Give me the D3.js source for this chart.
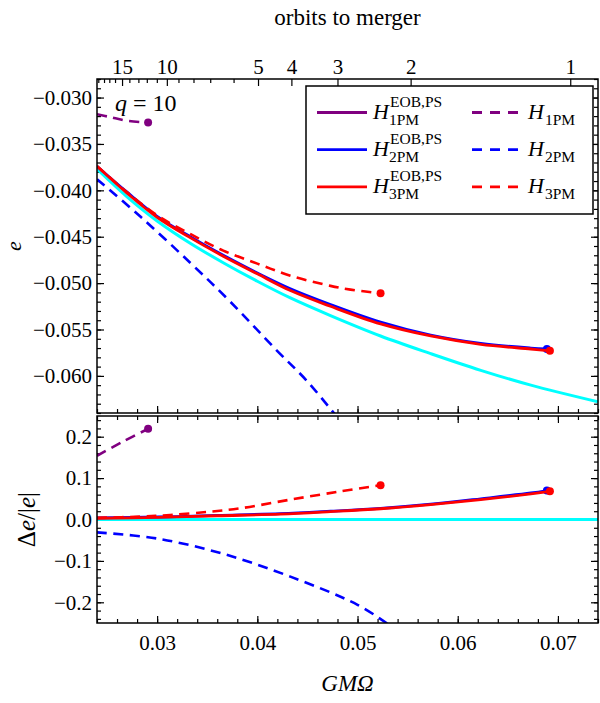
<!DOCTYPE html>
<html><head><meta charset="utf-8">
<script src="https://cdn.jsdelivr.net/npm/d3@7"></script>
<style>
body{margin:0;background:#fff}
svg{display:block}
text{font-family:"Liberation Serif","DejaVu Serif",serif;fill:#000}
</style>
</head><body>
<svg id="chart" width="600" height="703"></svg>
<script>
// ---------------- DATA ----------------
const xDomain = [0.024, 0.074];
const eDomain = [-0.064, -0.028];
const dDomain = [-0.25, 0.25];

const xMajorTicks = [0.03, 0.04, 0.05, 0.06, 0.07];
const eMajorTicks = [-0.060, -0.055, -0.050, -0.045, -0.040, -0.035, -0.030];
const dMajorTicks = [-0.2, -0.1, 0.0, 0.1, 0.2];

const orbitLabels = ["15", "10", "5", "4", "3", "2", "1"];
const orbitOmega = [0.0265, 0.03097, 0.04007, 0.0434, 0.0480, 0.0553, 0.07123];
const orbitMinorOmega = [0.02413, 0.0247, 0.02523, 0.0258, 0.02723, 0.02813, 0.02897, 0.02997, 0.03213, 0.03363, 0.0353, 0.03763];

// top panel: eccentricity e vs GM*Omega
const omegaNR = [0.024, 0.027, 0.030, 0.0333, 0.0366, 0.040, 0.0433, 0.0473, 0.0523, 0.0573, 0.0623, 0.0673, 0.074];
const eNR     = [-0.0377, -0.0407, -0.0433, -0.0457, -0.0478, -0.0498, -0.0516, -0.0535, -0.0557, -0.0576, -0.0594, -0.0610, -0.0628];

const omegaEOB2 = [0.024, 0.027, 0.030, 0.0333, 0.0366, 0.040, 0.0433, 0.0473, 0.0523, 0.0573, 0.0623, 0.0673, 0.0689];
const eEOB2     = [-0.0374, -0.0402, -0.0428, -0.0450, -0.0470, -0.0489, -0.0506, -0.0523, -0.0542, -0.0556, -0.0565, -0.0570, -0.0571];

const omegaEOB3 = [0.024, 0.027, 0.030, 0.0333, 0.0366, 0.040, 0.0433, 0.0473, 0.0523, 0.0573, 0.0623, 0.0673, 0.0692];
const eEOB3     = [-0.0374, -0.0403, -0.0429, -0.0451, -0.0471, -0.0490, -0.0508, -0.0525, -0.0544, -0.0557, -0.0566, -0.0571, -0.0573];

const omegaPM1 = [0.024, 0.0253, 0.0270, 0.0291];
const ePM1     = [-0.0318, -0.0321, -0.0325, -0.0327];

const omegaPM2 = [0.024, 0.0283, 0.0333, 0.0373, 0.0418, 0.0450, 0.0480];
const ePM2     = [-0.0388, -0.0428, -0.0478, -0.0520, -0.0571, -0.0606, -0.0645];

const omegaPM3 = [0.024, 0.027, 0.030, 0.0333, 0.0366, 0.040, 0.0433, 0.0473, 0.0493, 0.0523];
const ePM3     = [-0.0374, -0.0402, -0.0427, -0.0447, -0.0465, -0.0479, -0.0492, -0.0503, -0.0507, -0.0511];

// bottom panel: relative difference
const omegaDNR = [0.024, 0.074];
const dNR      = [0, 0];

const omegaDEOB2 = [0.024, 0.030, 0.036, 0.0423, 0.0473, 0.0523, 0.0573, 0.0623, 0.0673, 0.0689];
const dEOB2      = [0.004, 0.006, 0.010, 0.014, 0.020, 0.027, 0.037, 0.050, 0.064, 0.070];

const omegaDEOB3 = [0.024, 0.030, 0.036, 0.0423, 0.0473, 0.0523, 0.0573, 0.0623, 0.0673, 0.0692];
const dEOB3      = [0.003, 0.005, 0.009, 0.013, 0.019, 0.026, 0.036, 0.048, 0.062, 0.068];

const omegaDPM1 = [0.024, 0.0265, 0.0291];
const dPM1      = [0.154, 0.187, 0.219];

const omegaDPM2 = [0.024, 0.030, 0.0366, 0.0433, 0.050, 0.0530];
const dPM2      = [-0.031, -0.046, -0.083, -0.138, -0.206, -0.252];

const omegaDPM3 = [0.024, 0.0283, 0.0313, 0.0353, 0.0383, 0.0433, 0.0483, 0.0523];
const dPM3      = [0.004, 0.007, 0.011, 0.019, 0.027, 0.048, 0.068, 0.083];

const colPurple = "#800080", colBlue = "#0000ff", colRed = "#ff0000", colCyan = "#00ffff";

// ---------------- LAYOUT ----------------
const L = 97, R = 598;
const topT = 79, topB = 413;
const botT = 416, botB = 623;

const svg = d3.select("#chart");
const x = d3.scaleLinear().domain(xDomain).range([L, R]);
const yE = d3.scaleLinear().domain(eDomain).range([topB, topT]);
const yD = d3.scaleLinear().domain(dDomain).range([botB, botT]);

const defs = svg.append("defs");
defs.append("clipPath").attr("id", "clipTop").append("rect")
  .attr("x", L).attr("y", topT).attr("width", R - L).attr("height", topB - topT);
defs.append("clipPath").attr("id", "clipBot").append("rect")
  .attr("x", L).attr("y", botT).attr("width", R - L).attr("height", botB - botT);

const minorX = d3.range(0.024, 0.0741, 0.002).map(v => +v.toFixed(3));
const minorE = d3.range(-0.064, -0.0279, 0.001).map(v => +v.toFixed(3));
const minorD = d3.range(-0.24, 0.241, 0.02).map(v => +v.toFixed(2));

function styleAxis(g, fs) {
  g.select(".domain").remove();
  g.selectAll(".tick line").attr("stroke", "#000").attr("stroke-width", 1.2);
  g.selectAll("text").attr("font-size", fs).attr("font-family", '"Liberation Serif",serif').attr("fill", "#000");
  g.attr("font-family", null).attr("font-size", null);
}

function addAxis(axis, tx, ty, fs) {
  const g = svg.append("g").attr("transform", `translate(${tx},${ty})`).call(axis);
  styleAxis(g, fs || 21);
  return g;
}

// ---- Top panel axes ----
addAxis(d3.axisLeft(yE).tickValues(eMajorTicks).tickSize(-7).tickPadding(5).tickFormat(d3.format(".3f")), L, 0);
addAxis(d3.axisLeft(yE).tickValues(minorE).tickSize(-4).tickFormat(""), L, 0);
addAxis(d3.axisRight(yE).tickValues(eMajorTicks).tickSize(-7).tickFormat(""), R, 0);
addAxis(d3.axisRight(yE).tickValues(minorE).tickSize(-4).tickFormat(""), R, 0);
addAxis(d3.axisBottom(x).tickValues(xMajorTicks).tickSize(-7).tickFormat(""), 0, topB);
addAxis(d3.axisBottom(x).tickValues(minorX).tickSize(-4).tickFormat(""), 0, topB);
// orbits-to-merger axis on top
addAxis(d3.axisTop(x).tickValues(orbitOmega).tickSize(-7).tickPadding(5)
  .tickFormat((d, i) => orbitLabels[i]), 0, topT);
addAxis(d3.axisTop(x).tickValues(orbitMinorOmega).tickSize(-4).tickFormat(""), 0, topT);

// ---- Bottom panel axes ----
addAxis(d3.axisLeft(yD).tickValues(dMajorTicks).tickSize(-7).tickPadding(5).tickFormat(d3.format(".1f")), L, 0);
addAxis(d3.axisLeft(yD).tickValues(minorD).tickSize(-4).tickFormat(""), L, 0);
addAxis(d3.axisRight(yD).tickValues(dMajorTicks).tickSize(-7).tickFormat(""), R, 0);
addAxis(d3.axisRight(yD).tickValues(minorD).tickSize(-4).tickFormat(""), R, 0);
addAxis(d3.axisBottom(x).tickValues(xMajorTicks).tickSize(-7).tickPadding(12).tickFormat(d3.format(".2f")), 0, botB);
addAxis(d3.axisBottom(x).tickValues(minorX).tickSize(-4).tickFormat(""), 0, botB);
addAxis(d3.axisTop(x).tickValues(xMajorTicks).tickSize(-7).tickFormat(""), 0, botT);
addAxis(d3.axisTop(x).tickValues(minorX).tickSize(-4).tickFormat(""), 0, botT);

// ---- Curves ----
function drawSeries(xs, ys, yScale, clip, color, dashed, dot, width) {
  const pts = xs.map((v, i) => [v, ys[i]]);
  const line = d3.line().x(d => x(d[0])).y(d => yScale(d[1])).curve(d3.curveCatmullRom.alpha(0.5));
  const g = svg.append("g").attr("clip-path", `url(#${clip})`);
  g.append("path").attr("d", line(pts)).attr("fill", "none")
    .attr("stroke", color).attr("stroke-width", width || 2.6)
    .attr("stroke-dasharray", dashed ? "10,6.5" : null);
  if (dot) {
    const p = pts[pts.length - 1];
    g.append("circle").attr("cx", x(p[0])).attr("cy", yScale(p[1])).attr("r", 4).attr("fill", color);
  }
}

// top
drawSeries(omegaNR, eNR, yE, "clipTop", colCyan, false, false, 3);
drawSeries(omegaPM1, ePM1, yE, "clipTop", colPurple, true, true);
drawSeries(omegaPM2, ePM2, yE, "clipTop", colBlue, true, false);
drawSeries(omegaEOB2, eEOB2, yE, "clipTop", colBlue, false, true, 2.8);
drawSeries(omegaEOB3, eEOB3, yE, "clipTop", colRed, false, true, 2.8);
drawSeries(omegaPM3, ePM3, yE, "clipTop", colRed, true, true);
// bottom
drawSeries(omegaDNR, dNR, yD, "clipBot", colCyan, false, false, 3);
drawSeries(omegaDPM1, dPM1, yD, "clipBot", colPurple, true, true);
drawSeries(omegaDPM2, dPM2, yD, "clipBot", colBlue, true, false);
drawSeries(omegaDEOB2, dEOB2, yD, "clipBot", colBlue, false, true, 2.8);
drawSeries(omegaDEOB3, dEOB3, yD, "clipBot", colRed, false, true, 2.8);
drawSeries(omegaDPM3, dPM3, yD, "clipBot", colRed, true, true);

// ---- Frames ----
svg.append("rect").attr("x", L).attr("y", topT).attr("width", R - L).attr("height", topB - topT)
  .attr("fill", "none").attr("stroke", "#000").attr("stroke-width", 1.5);
svg.append("rect").attr("x", L).attr("y", botT).attr("width", R - L).attr("height", botB - botT)
  .attr("fill", "none").attr("stroke", "#000").attr("stroke-width", 1.5);

// ---- Legend ----
const legendSolid = [
  {color: colPurple, sub: "1PM"}, {color: colBlue, sub: "2PM"}, {color: colRed, sub: "3PM"}
];
const lg = svg.append("g");
lg.append("rect").attr("x", 306).attr("y", 86).attr("width", 287).attr("height", 128)
  .attr("fill", "#fff").attr("stroke", "#000").attr("stroke-width", 1.5);
legendSolid.forEach((d, i) => {
  const yy = 112.5 + i * 37.2;
  lg.append("line").attr("x1", 317).attr("x2", 367).attr("y1", yy).attr("y2", yy)
    .attr("stroke", d.color).attr("stroke-width", 2.8);
  lg.append("text").attr("x", 373).attr("y", yy + 6).attr("font-size", 22).attr("font-style", "italic").text("H");
  lg.append("text").attr("x", 390).attr("y", yy - 6).attr("font-size", 15.5).text("EOB,PS");
  lg.append("text").attr("x", 389).attr("y", yy + 12).attr("font-size", 15.5).text(d.sub);
  lg.append("line").attr("x1", 472).attr("x2", 518).attr("y1", yy).attr("y2", yy)
    .attr("stroke", d.color).attr("stroke-width", 2.8).attr("stroke-dasharray", "10,8");
  lg.append("text").attr("x", 528).attr("y", yy + 6).attr("font-size", 22).attr("font-style", "italic").text("H");
  lg.append("text").attr("x", 545).attr("y", yy + 12).attr("font-size", 15.5).text(d.sub);
});

// ---- Labels ----
svg.append("text").attr("x", (L + R) / 2).attr("y", 25).attr("text-anchor", "middle")
  .attr("font-size", 23).text("orbits to merger");
svg.append("text").attr("x", (L + R) / 2).attr("y", 691).attr("text-anchor", "middle")
  .attr("font-size", 23).attr("font-style", "italic").text("GMΩ");
svg.append("text").attr("transform", `translate(21,${(topT + topB) / 2}) rotate(-90)`)
  .attr("text-anchor", "middle").attr("font-size", 22).attr("font-style", "italic").text("e");
const dl = svg.append("text").attr("transform", `translate(35,${(botT + botB) / 2}) rotate(-90)`)
  .attr("text-anchor", "middle").attr("font-size", 25);
dl.append("tspan").text("Δ");
dl.append("tspan").attr("font-style", "italic").text("e");
dl.append("tspan").text("/|");
dl.append("tspan").attr("font-style", "italic").text("e");
dl.append("tspan").text("|");
const ql = svg.append("text").attr("x", 115).attr("y", 111).attr("font-size", 24);
ql.append("tspan").attr("font-style", "italic").text("q");
ql.append("tspan").text(" = 10");
</script>
</body></html>
